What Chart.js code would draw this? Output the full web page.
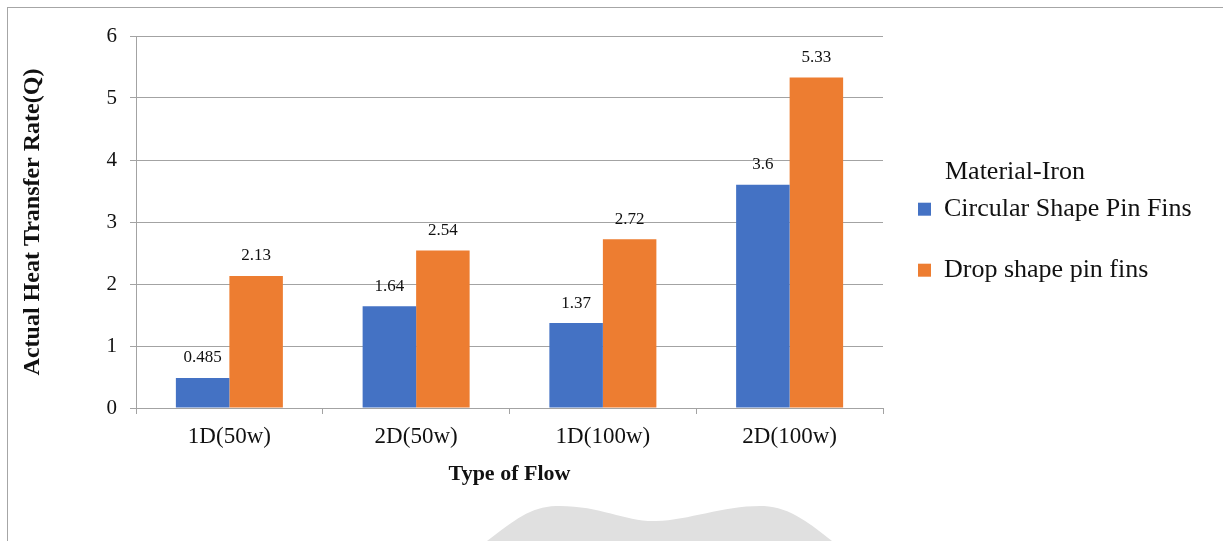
<!DOCTYPE html>
<html>
<head>
<meta charset="utf-8">
<title>Actual Heat Transfer Rate – Material-Iron</title>
<script src="https://cdn.jsdelivr.net/npm/chart.js@4.4.1/dist/chart.umd.min.js"></script>
<style>
  html, body { margin: 0; padding: 0; background: #ffffff; }
  canvas { display: block; }
</style>
</head>
<body>
<canvas id="chart" width="1223" height="541"></canvas>
<script>
// Flow configurations on the category axis
const flowTypes = ['1D(50w)', '2D(50w)', '1D(100w)', '2D(100w)'];

// Actual heat transfer rate Q for each fin shape
const circularPinFins = [0.485, 1.64, 1.37, 3.6];
const dropPinFins = [2.13, 2.54, 2.72, 5.33];

// Series names and legend heading
const seriesNames = ['Circular Shape Pin Fins', 'Drop shape pin fins'];
const legendHeading = 'Material-Iron';

// Axis titles and value-axis ticks
const xAxisTitle = 'Type of Flow';
const yAxisTitle = 'Actual Heat Transfer Rate(Q)';
const yTickValues = [0, 1, 2, 3, 4, 5, 6];

const SERIF = '"Liberation Serif", "Times New Roman", serif';
const TEXT = '#111111';
const GRID = '#a3a3a3';

// Outer frame and the pale shape along the lower edge
const framePlugin = {
  id: 'frame',
  beforeDraw(chart) {
    const ctx = chart.ctx;
    ctx.save();
    ctx.fillStyle = '#ffffff';
    ctx.fillRect(0, 0, chart.width, chart.height);
    ctx.fillStyle = '#e0e0e0';
    ctx.beginPath();
    ctx.moveTo(487, 541);
    ctx.bezierCurveTo(515, 520, 530, 507, 556, 506);
    ctx.bezierCurveTo(600, 505, 625, 522, 656, 521);
    ctx.bezierCurveTo(690, 520, 725, 505, 764, 506);
    ctx.bezierCurveTo(790, 507, 812, 525, 832, 541);
    ctx.closePath();
    ctx.fill();
    ctx.strokeStyle = '#a6a6a6';
    ctx.lineWidth = 1;
    ctx.strokeRect(7.5, 7.5, 1400, 700);
    ctx.restore();
  }
};

// Legend column: fixed width for layout, drawing area reaching the canvas edge
const legendWidthPlugin = {
  id: 'legendWidth',
  beforeLayout(chart) {
    const lg = chart.legend;
    if (lg && !lg.__fixedWidth) {
      const baseFit = lg.fit.bind(lg);
      lg.fit = function () { baseFit(); this.width = 264; };
      lg.__fixedWidth = true;
    }
  },
  afterLayout(chart) {
    if (chart.legend) chart.legend.right = chart.width;
  }
};

// Value labels above each bar
const valueLabelPlugin = {
  id: 'valueLabels',
  afterDatasetsDraw(chart) {
    const ctx = chart.ctx;
    ctx.save();
    ctx.font = '17px ' + SERIF;
    ctx.fillStyle = TEXT;
    ctx.textAlign = 'center';
    ctx.textBaseline = 'middle';
    chart.data.datasets.forEach((ds, di) => {
      const meta = chart.getDatasetMeta(di);
      meta.data.forEach((bar, i) => {
        ctx.fillText(String(ds.data[i]), bar.x, bar.y - 20);
      });
    });
    ctx.restore();
  }
};

new Chart(document.getElementById('chart'), {
  type: 'bar',
  data: {
    labels: flowTypes,
    datasets: [
      { label: seriesNames[0], data: circularPinFins, backgroundColor: '#4472C4', borderWidth: 0 },
      { label: seriesNames[1], data: dropPinFins, backgroundColor: '#ED7D31', borderWidth: 0 }
    ]
  },
  options: {
    responsive: false,
    devicePixelRatio: 1,
    animation: false,
    layout: { padding: { top: 36, right: 76, bottom: 0, left: 0 } },
    datasets: { bar: { categoryPercentage: 0.573, barPercentage: 1.0 } },
    plugins: {
      tooltip: { enabled: false },
      legend: {
        position: 'right',
        align: 'start',
        labels: {
          boxWidth: 13,
          boxHeight: 13,
          padding: 35,
          color: TEXT,
          font: { family: SERIF, size: 26 }
        },
        title: {
          display: true,
          text: legendHeading,
          position: 'center',
          color: TEXT,
          font: { family: SERIF, size: 26 },
          padding: { top: 123, bottom: -29 }
        }
      }
    },
    scales: {
      x: {
        afterFit(scale) { scale.height = 133; },
        grid: {
          display: true,
          drawOnChartArea: false,
          drawTicks: true,
          tickLength: 6,
          color: GRID
        },
        border: { display: true, color: GRID, width: 1 },
        ticks: {
          color: TEXT,
          padding: 9,
          maxRotation: 0,
          font: { family: SERIF, size: 23 }
        },
        title: {
          display: true,
          text: xAxisTitle,
          color: TEXT,
          font: { family: SERIF, size: 22, weight: 'bold' },
          padding: { top: 0, bottom: 53 }
        }
      },
      y: {
        min: yTickValues[0],
        max: yTickValues[yTickValues.length - 1],
        afterFit(scale) { scale.width = 136; },
        afterBuildTicks(scale) { scale.ticks = yTickValues.map(v => ({ value: v })); },
        grid: {
          color: GRID,
          lineWidth: 1,
          drawTicks: true,
          tickLength: 6
        },
        border: { display: true, color: GRID, width: 1 },
        ticks: {
          color: TEXT,
          padding: 13,
          font: { family: SERIF, size: 21 }
        },
        title: {
          display: true,
          text: yAxisTitle,
          color: TEXT,
          font: { family: SERIF, size: 24, weight: 'bold' },
          padding: { top: 18, bottom: 0 }
        }
      }
    }
  },
  plugins: [framePlugin, legendWidthPlugin, valueLabelPlugin]
});
</script>
</body>
</html>
